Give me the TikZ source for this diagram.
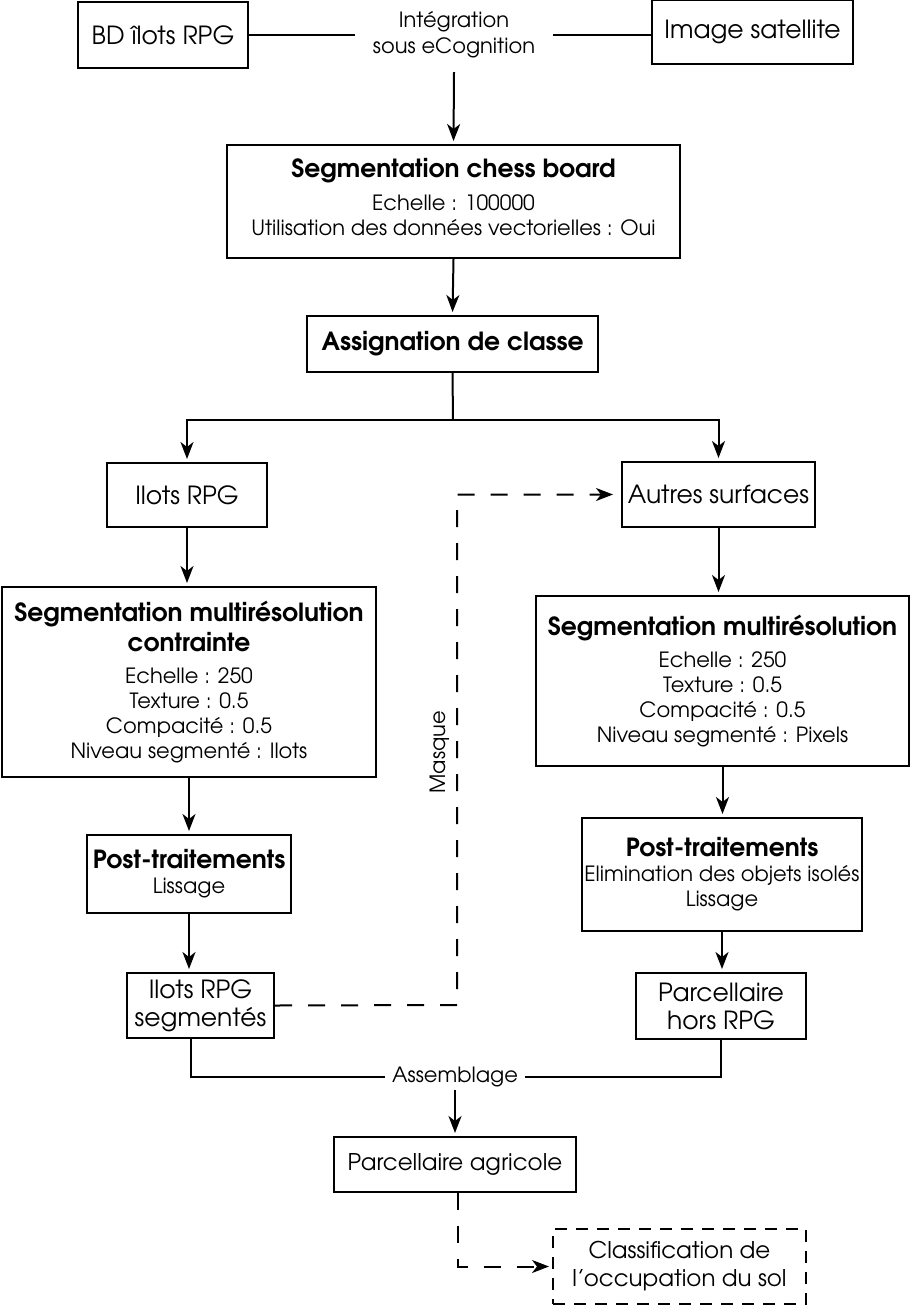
\documentclass[tikz,border=0pt]{standalone}
\usepackage{fontspec}
\setmainfont{texgyreadventor}[Extension=.otf,UprightFont=*-regular,BoldFont=*-bold]
\usetikzlibrary{arrows.meta}
\begin{document}
\begin{tikzpicture}[x=1pt,y=-1pt,
  box/.style={draw,line width=2pt,align=center,inner sep=0pt},
  dbox/.style={box,dash pattern=on 12pt off 9pt},
  lbl/.style={align=center,inner sep=0pt},
  conn/.style={line width=2pt},
  tip/.style={-{Stealth[length=17pt,width=13pt,inset=5pt]}},
  arr/.style={conn,tip,shorten >=3pt},
  dconn/.style={conn,dash pattern=on 17pt off 16pt},
  big/.style={font=\fontsize{25}{28}\selectfont},
  body/.style={font=\fontsize{21}{25}\selectfont},
]
\useasboundingbox (0,0) rectangle (911,1307);
\newcommand{\ttl}[1]{{\fontsize{25}{30}\selectfont\bfseries #1}}
% top row
\node[box,big,minimum width=170pt,minimum height=66pt] (bd) at (163,35) {BD îlots RPG};
\node[box,big,minimum width=201pt,minimum height=64pt] (img) at (752.5,32) {Image satellite};
\node[lbl,body,minimum width=198pt,minimum height=74pt] (integ) at (454,35) {Intégration\\[1pt]sous eCognition};
\node[box,body,minimum width=453pt,minimum height=113pt] (chess) at (453.5,201.5)
  {\ttl{Segmentation chess board}\\[8pt]Echelle : 100000\\Utilisation des données vectorielles : Oui\\[-16pt]\mbox{}};
\node[box,minimum width=291pt,minimum height=56pt] (assign) at (452.5,344) {\ttl{Assignation de classe}};
\coordinate (j) at (453,420);
% left branch
\node[box,big,minimum width=160pt,minimum height=64pt] (ilots) at (187,495) {Ilots RPG};
\node[box,body,minimum width=374pt,minimum height=190pt] (segL) at (189,682)
  {\ttl{Segmentation multirésolution}\\[5pt]\ttl{contrainte}\\[7pt]Echelle : 250\\Texture : 0.5\\Compacité : 0.5\\Niveau segmenté : Ilots};
\node[box,body,minimum width=204pt,minimum height=78pt] (postL) at (189,874)
  {\ttl{Post-traitements}\\Lissage};
\node[box,big,minimum width=147pt,minimum height=65pt] (ilseg) at (200.5,1005.5)
  {Ilots RPG\\segmentés};
% right branch
\node[box,big,minimum width=193pt,minimum height=65pt] (autres) at (718.5,494.5) {Autres surfaces};
\node[box,body,minimum width=373pt,minimum height=170pt] (segR) at (722.5,681)
  {\ttl{Segmentation multirésolution}\\[7pt]Echelle : 250\\Texture : 0.5\\Compacité : 0.5\\Niveau segmenté : Pixels};
\node[box,body,minimum width=280pt,minimum height=113pt] (postR) at (722,874.5)
  {\ttl{Post-traitements}\\Elimination des objets isolés\\Lissage};
\node[box,big,minimum width=170pt,minimum height=66pt] (phors) at (721,1006)
  {Parcellaire\\hors RPG};
% bottom
\node[lbl,body,minimum width=140pt,minimum height=26pt] (assemb) at (455,1077) {Assemblage};
\node[box,minimum width=242pt,minimum height=55pt,font=\fontsize{23}{28}\selectfont] (pagr) at (455,1164.5) {Parcellaire agricole};
\node[dbox,minimum width=253pt,minimum height=75pt,font=\fontsize{23}{28}\selectfont] (classif) at (679.5,1266.5)
  {Classification de\\l'occupation du sol};
\node[lbl,body,rotate=90] (masque) at (440,752) {Masque};
\coordinate (m1) at (457,1005);
% connectors
\draw[conn] (bd.east) -- (integ.west);
\draw[conn] (integ.east) -- (integ.east -| img.west);
\draw[arr] (integ.south) -- (chess.north);
\draw[arr] (chess.south) -- (assign.north);
\draw[conn] (assign.south) -- (j);
\draw[arr] (j) -| (ilots.north);
\draw[arr] (j) -| (autres.north);
\draw[arr] (ilots.south) -- (ilots.south |- segL.north);
\draw[arr] (segL.south) -- (postL.north);
\draw[arr] (postL.south) -- (postL.south |- ilseg.north);
\draw[arr] (autres.south) -- (autres.south |- segR.north);
\draw[arr] (segR.south) -- (segR.south |- postR.north);
\draw[arr] (postR.south) -- (postR.south |- phors.north);
\draw[dconn,tip,shorten >=8pt] (ilseg.east) -- (m1) |- (autres.west);
\draw[conn] ([xshift=-10pt]ilseg.south) |- (assemb.west);
\draw[conn] (phors.south) |- (assemb.east);
\draw[arr] (assemb.south) -- (pagr.north);
\draw[dconn,tip,shorten >=3pt] ([xshift=3pt]pagr.south) |- (classif.west);
\end{tikzpicture}
\end{document}
